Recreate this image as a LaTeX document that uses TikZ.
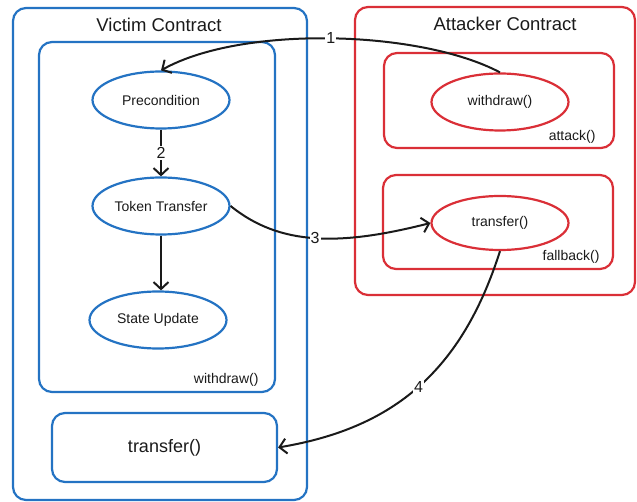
\documentclass[tikz,border=0pt]{standalone}
\usepackage{fontspec}
\setmainfont{Liberation Sans}
\usetikzlibrary{shapes.geometric,arrows.meta}
\definecolor{vblue}{HTML}{2473C3}
\definecolor{ared}{HTML}{DA2F37}
\definecolor{ink}{HTML}{1A1A1A}
\begin{document}
\begin{tikzpicture}[x=1pt,y=-1pt,
  box/.style={rounded corners=13pt,line width=2.2pt},
  vbox/.style={box,draw=vblue},
  abox/.style={box,draw=ared},
  vell/.style={ellipse,draw=vblue,line width=2.2pt,minimum width=137pt,minimum height=57pt,inner sep=0pt,font=\fontsize{14}{16}\selectfont,text=ink},
  aell/.style={vell,draw=ared},
  title/.style={font=\fontsize{18.5}{22}\selectfont,text=ink},
  small/.style={font=\fontsize{14}{16}\selectfont,text=ink},
  arr/.style={draw=ink,line width=2pt,-{Straight Barb[length=7pt,width=15pt,line width=2pt]}},
  num/.style={fill=white,inner sep=1pt,font=\fontsize{16}{18}\selectfont,text=ink}]
\useasboundingbox (0,0) rectangle (637,502);
% containers
\draw[vbox] (13,8) rectangle (307,500);
\node[title] (vt) at (159,25) {Victim Contract};
\draw[vbox] (39,42) rectangle (275,392);
\node[small,anchor=east] (wdl) at (262,380) {withdraw()};
\node[vbox,draw,minimum width=225pt,minimum height=69pt,inner sep=0pt,font=\fontsize{18}{21}\selectfont,text=ink] (vtr) at (164.5,447.5) {transfer()};
\draw[abox] (355,7) rectangle (635,295);
\node[title] (at) at (505,24) {Attacker Contract};
\draw[abox] (384,53) rectangle (614,148);
\node[small,anchor=east] (atl) at (599,137) {attack()};
\draw[abox] (383,175) rectangle (613,269);
\node[small,anchor=east] (fbl) at (603,257) {fallback()};
% ellipses
\node[vell] (pre) at (161,100) {Precondition};
\node[vell] (tt) at (161,206) {Token Transfer};
\node[vell] (su) at (158,320) {State Update};
\node[aell] (wd) at (500,102) {withdraw()};
\node[aell,minimum height=54pt] (tr) at (500,223) {transfer()};
% connectors
\draw[arr] (wd.north) .. controls (420,30) and (242,25) .. node[num,pos=0.5] {1} (pre.north);
\draw[arr] (pre.south) -- node[num] {2} (tt.north);
\draw[arr] (tt.south) -- (tt.south |- su.north);
\draw[arr] (tt.east) .. controls (280,246) and (340,246) .. node[num,pos=0.5] {3} (tr.west);
\draw[arr] (tr.south) .. controls (462,370) and (395,428) .. node[num,pos=0.5] {4} (vtr.east);
\end{tikzpicture}
\end{document}
